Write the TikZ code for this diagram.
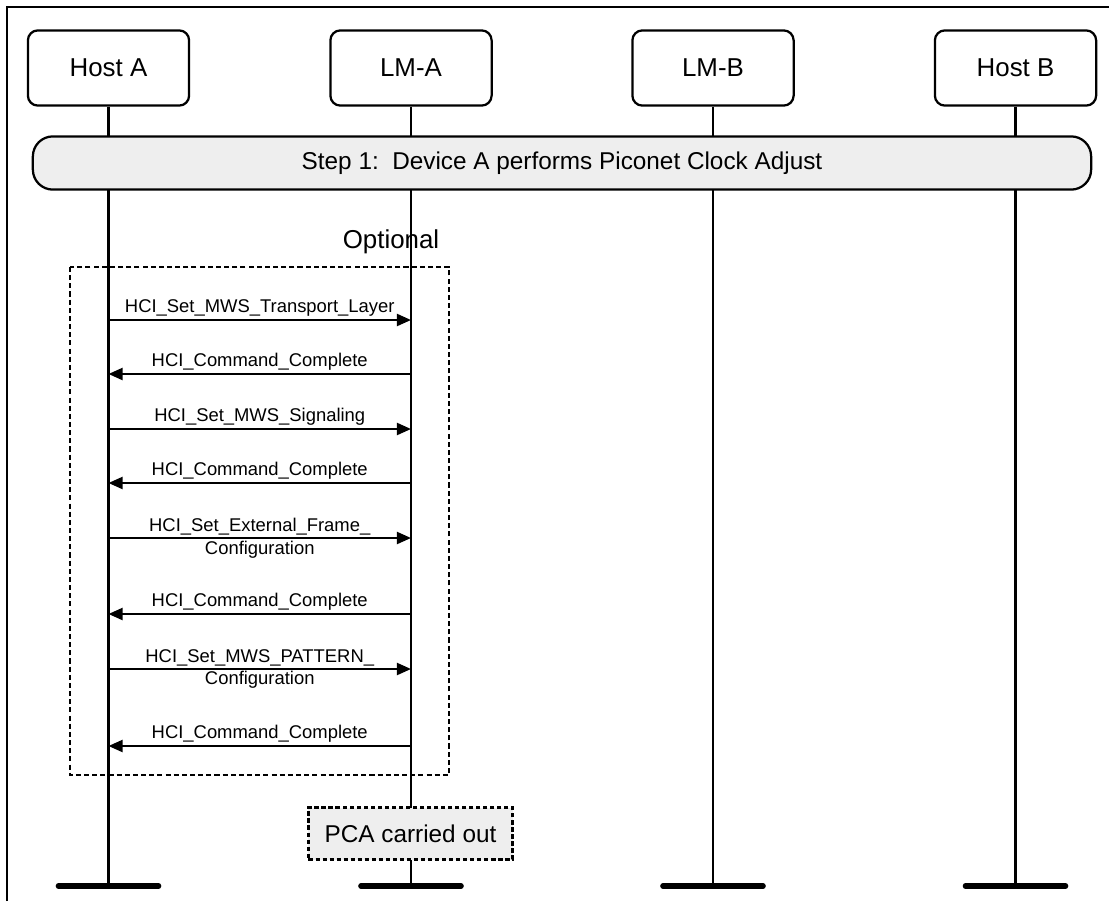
\documentclass[tikz,border=0pt]{standalone}
\usepackage{fontspec}
\setmainfont{Liberation Sans}
\usepackage{tikz}
\usetikzlibrary{arrows.meta, positioning, calc}

\definecolor{panelgray}{HTML}{EEEEEE}

\begin{document}
\begin{tikzpicture}[
        x=0.025cm, y=-0.025cm,
        actor/.style={
            draw,
            rounded corners=0.25cm,
            line width=1.6pt,
            minimum width=4.03cm,
            minimum height=1.88cm,
            font=\fontsize{18.4}{22}\selectfont
        },
        stepbar/.style={
            draw,
            fill=panelgray,
            rounded corners=0.5cm,
            line width=1.6pt,
            minimum width=26.45cm,
            minimum height=1.33cm,
            font=\fontsize{17.3}{21}\selectfont
        },
        note/.style={
            draw,
            fill=panelgray,
            line width=1.6pt,
            dash pattern=on 3pt off 2pt,
            minimum width=5.1cm,
            minimum height=1.3cm,
            font=\fontsize{17.3}{21}\selectfont
        },
        lifeline/.style={line width=1.6pt},
        endbar/.style={line width=4pt, line cap=round},
        optbox/.style={line width=1.6pt, dash pattern=on 3.6pt off 2.2pt},
        msg/.style={
            -{Triangle[length=10pt, width=8.5pt]},
            line width=1.6pt
        },
        lbl/.style={
            font=\fontsize{13.1}{16.3}\selectfont,
            inner sep=1.5pt
        }
    ]

    \useasboundingbox (0,0) rectangle (1109,901);

    % frame
    \draw[line width=1.8pt] (7,901) -- (7,7) -- (1109,7);

    \node[actor] (hostA) at (108.5,68) {Host A};
    \node[actor] (lmA) at (411,68) {LM-A};
    \node[actor] (lmB) at (713,68) {LM-B};
    \node[actor] (hostB) at (1015.5,68) {Host B};

    \coordinate (endA) at (hostA |- 0,886);
    \coordinate (endLA) at (lmA |- 0,886);
    \coordinate (endLB) at (lmB |- 0,886);
    \coordinate (endB) at (hostB |- 0,886);

    \node[font=\fontsize{18.4}{22}\selectfont] (optional) at (391,242) {Optional};

    % lifelines
    \draw[lifeline] (hostA.south) -- (endA);
    \draw[lifeline] (lmA.south) -- (endLA);
    \draw[lifeline] (lmB.south) -- (endLB);
    \draw[lifeline] (hostB.south) -- (endB);

    \draw[endbar] ($(endA)+(-50,0)$) -- ($(endA)+(50,0)$);
    \draw[endbar] ($(endLA)+(-50,0)$) -- ($(endLA)+(50,0)$);
    \draw[endbar] ($(endLB)+(-50,0)$) -- ($(endLB)+(50,0)$);
    \draw[endbar] ($(endB)+(-50,0)$) -- ($(endB)+(50,0)$);

    \node[stepbar] (step) at (562,163) {Step 1:\ \ Device A performs Piconet Clock Adjust};

    \draw[optbox] (70,267) rectangle (449,775);

    % messages
    \draw[msg] (hostA |- 0,320) -- node[lbl, above] {HCI\_Set\_MWS\_Transport\_Layer} (lmA |- 0,320);
    \draw[msg] (lmA |- 0,374) -- node[lbl, above] {HCI\_Command\_Complete} (hostA |- 0,374);
    \draw[msg] (hostA |- 0,429) -- node[lbl, above] {HCI\_Set\_MWS\_Signaling} (lmA |- 0,429);
    \draw[msg] (lmA |- 0,483) -- node[lbl, above] {HCI\_Command\_Complete} (hostA |- 0,483);
    \draw[msg] (hostA |- 0,538) -- node[lbl, align=center] {HCI\_Set\_External\_Frame\_\\Configuration} (lmA |- 0,538);
    \draw[msg] (lmA |- 0,614) -- node[lbl, above] {HCI\_Command\_Complete} (hostA |- 0,614);
    \draw[msg] (hostA |- 0,669) -- node[lbl, align=center] {HCI\_Set\_MWS\_PATTERN\_\\Configuration} (lmA |- 0,669);
    \draw[msg] (lmA |- 0,746) -- node[lbl, above] {HCI\_Command\_Complete} (hostA |- 0,746);

    \node[note] (pca) at (410.5,833.5) {PCA carried out};

\end{tikzpicture}
\end{document}
